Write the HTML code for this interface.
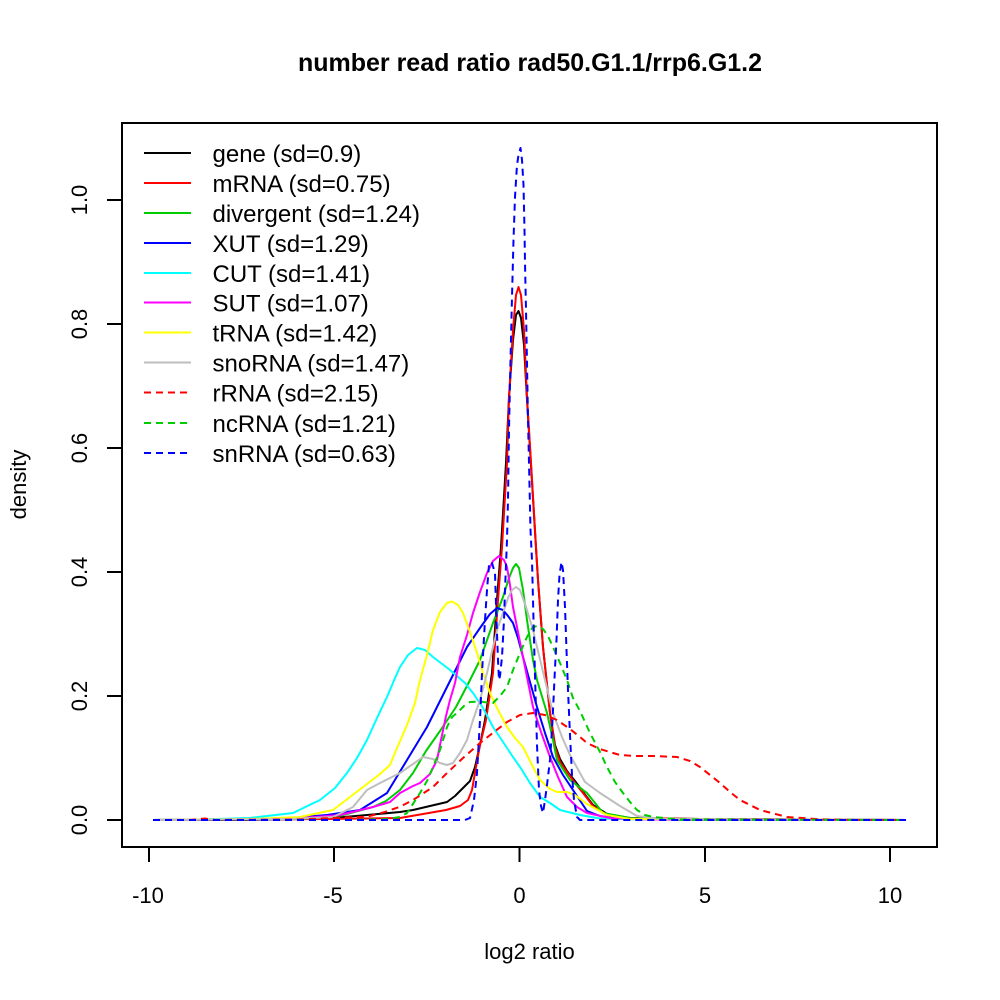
<!DOCTYPE html>
<html>
<head>
<meta charset="utf-8">
<style>
html,body{margin:0;padding:0;background:#fff;}
svg{display:block;}
text{font-family:"Liberation Sans",Arial,sans-serif;fill:#000;}
</style>
</head>
<body>
<svg width="1000" height="1000" viewBox="0 0 1000 1000" xmlns="http://www.w3.org/2000/svg">
<rect x="0" y="0" width="1000" height="1000" fill="#fff"/>

<!-- title -->
<text x="530" y="71" font-size="25" font-weight="bold" text-anchor="middle">number read ratio rad50.G1.1/rrp6.G1.2</text>

<!-- curves -->
<g fill="none" stroke-width="2" stroke-linejoin="round" stroke-linecap="butt">
<polyline stroke="#000000" points="153,820 250,820 300,819 333,818 367,815 400,812 413,810 430,806 447,802 455,796 462,789 470,781 475,767 480,745 485,720 492,673 497,600 501,547 506,463 509,397 513,340 516,315 518.5,311 521,318 524,345 527,400 531,465 536,548 538,580 543,647 550,713 555,745 560,759 567,771 575,781 583,792 593,805 607,814 630,818 700,819 906,820"/>
<polyline stroke="#FF0000" points="153,820 330,819 400,818 423,814 446,810 460,806 468,800 472,790 476,767 480,745 486,720 493,673 498,600 502,547 507,463 509,397 513,330 516,295 518.5,287 521,295 524,330 527,397 531,463 536,547 538,580 543,647 550,713 555,747 560,762 567,772 575,783 583,793 593,806 607,815 630,818 700,819 906,820"/>
<polyline stroke="#00CD00" points="153,820 300,819 343,815 373,807 386,801 400,790 413,773 426,751 440,731 456,707 468,684 480,660 493,623 503,597 509,578 513,568 516,564 519,568 523,590 527,620 533,660 537,680 547,713 553,740 557,760 570,780 587,793 603,813 630,818 680,820 906,820"/>
<polyline stroke="#0000FF" points="153,820 280,819 327,815 360,810 387,793 407,760 427,727 447,687 467,647 480,628 490,614 497,608 503,610 508,616 513,623 518,638 523,657 530,682 537,707 545,733 553,757 563,775 573,790 587,811 600,816 620,819 906,820"/>
<polyline stroke="#00FFFF" points="153,820 200,819.5 250,818 293,813 320,800 335,788 347,773 357,758 367,740 377,718 387,697 395,678 400,667 408,655 417,648 425,650 433,657 450,670 465,683 473,693 483,708 493,727 503,742 513,757 520,767 530,783 540,797 550,803 560,810 580,815 600,818.5 640,819.5 906,820"/>
<polyline stroke="#FF00FF" points="153,820 290,819 340,815 373,807 390,802 400,793 413,786 420,783 430,774 437,760 441,740 446,716 450,700 455,683 460,657 467,635 473,613 480,592 487,573 493,561 499,556 504,560 507,567 510,585 513,607 518,632 523,657 528,682 533,707 541,732 550,757 558,777 567,797 577,807 587,813 610,818 650,819.5 906,820"/>
<polyline stroke="#FFFF00" points="153,820 250,819 300,817 333,810 350,797 367,784 380,774 390,765 397,748 407,725 415,703 420,680 427,655 433,630 440,612 447,603 452,601.5 458,605 463,613 470,632 477,653 483,673 490,693 498,710 507,727 515,738 523,747 533,767 540,780 550,789 557,792 567,792 575,795 587,804 607,815 630,819 906,820"/>
<polyline stroke="#BEBEBE" points="153,820 290,819 333,817 353,807 367,790 380,783 400,773 413,764 423,757 433,759 440,763 447,765 453,763 460,753 467,740 473,720 480,700 487,673 493,647 498,627 503,613 508,598 512,590 516,587 520,590 526,607 533,630 537,647 545,680 553,713 562,737 570,755 585,782 600,793 620,806 637,816 660,819 906,820"/>
</g>
<g fill="none" stroke-width="2" stroke-linejoin="round" stroke-dasharray="7 5">
<polyline stroke="#FF0000" points="153,820 190,820 205,818.5 215,820 300,819.5 333,818 367,816.7 385,812 400,806.7 413,800 433,787 447,773 463,758 480,743 494,732 507,722 520,715 533,713 545,715 557,720 570,729 580,737 587,743 600,749 613,753 620,755 635,756 653,756 677,757 690,761 700,767 710,775 720,783 730,792 740,800 760,810 787,817 820,819.3 860,820 906,820"/>
<polyline stroke="#00CD00" points="153,820 350,820 387,819 400,817 407,813 420,793 427,781 433,767 440,750 447,727 452,717 457,713 465,705 470,702 480,701.5 487,702.5 493,703 500,696 507,687 513,670 520,653 527,637 533,627 538,626 543,629 548,636 553,647 560,663 567,680 573,698 580,711 590,733 600,752 607,767 615,782 623,793 630,802 637,810 645,815 653,817 680,819.5 906,820"/>
<polyline stroke="#0000FF" points="153,820 465,820 470,818 474,800 477,773 480,720 482,673 485,620 487,590 489,565 490,562 492,563 495,573 496.5,620 498,660 499,680 500,676 502,657 504,620 505,590 507,540 508,500 509,430 510.5,360 512,297 513.5,240 515,197 517,165 518.5,155 520.5,148 522,160 523.5,185 524.5,230 525,263 526,310 527,363 528,420 529,463 530.5,530 532,560 534,640 536,710 537,745 539,790 541,806 543,813 545,800 547,785 550,760 552,730 553.5,700 555,668 556.5,640 558,600 559.5,575 561.5,562 563,570 565,607 566.5,650 568,690 570,735 572,775 574,800 577,817 580,820 906,820"/>
</g>

<!-- box -->
<rect x="122" y="123" width="815" height="724" fill="none" stroke="#000" stroke-width="2"/>

<!-- x ticks -->
<g stroke="#000" stroke-width="2">
<line x1="149" y1="847" x2="149" y2="862"/>
<line x1="334" y1="847" x2="334" y2="862"/>
<line x1="519.5" y1="847" x2="519.5" y2="862"/>
<line x1="705" y1="847" x2="705" y2="862"/>
<line x1="890" y1="847" x2="890" y2="862"/>
<line x1="122" y1="820" x2="107" y2="820"/>
<line x1="122" y1="696" x2="107" y2="696"/>
<line x1="122" y1="572" x2="107" y2="572"/>
<line x1="122" y1="448" x2="107" y2="448"/>
<line x1="122" y1="324" x2="107" y2="324"/>
<line x1="122" y1="200" x2="107" y2="200"/>
</g>
<g font-size="22" text-anchor="middle">
<text x="148" y="903">-10</text>
<text x="333" y="903">-5</text>
<text x="519.5" y="903">0</text>
<text x="705" y="903">5</text>
<text x="890" y="903">10</text>
<text transform="translate(87,820) rotate(-90)">0.0</text>
<text transform="translate(87,696) rotate(-90)">0.2</text>
<text transform="translate(87,572) rotate(-90)">0.4</text>
<text transform="translate(87,448) rotate(-90)">0.6</text>
<text transform="translate(87,324) rotate(-90)">0.8</text>
<text transform="translate(87,200) rotate(-90)">1.0</text>
<text x="529.5" y="959">log2 ratio</text>
<text transform="translate(26,484.5) rotate(-90)">density</text>
</g>

<!-- legend -->
<g stroke-width="2" fill="none">
<line x1="144" y1="153" x2="191" y2="153" stroke="#000000"/>
<line x1="144" y1="183" x2="191" y2="183" stroke="#FF0000"/>
<line x1="144" y1="213" x2="191" y2="213" stroke="#00CD00"/>
<line x1="144" y1="243" x2="191" y2="243" stroke="#0000FF"/>
<line x1="144" y1="273" x2="191" y2="273" stroke="#00FFFF"/>
<line x1="144" y1="302.5" x2="191" y2="302.5" stroke="#FF00FF"/>
<line x1="144" y1="332.5" x2="191" y2="332.5" stroke="#FFFF00"/>
<line x1="144" y1="362.5" x2="191" y2="362.5" stroke="#BEBEBE"/>
<line x1="144" y1="392.5" x2="189" y2="392.5" stroke="#FF0000" stroke-dasharray="7 5"/>
<line x1="144" y1="423" x2="189" y2="423" stroke="#00CD00" stroke-dasharray="7 5"/>
<line x1="144" y1="453" x2="189" y2="453" stroke="#0000FF" stroke-dasharray="7 5"/>
</g>
<g font-size="24">
<text x="212.5" y="162">gene (sd=0.9)</text>
<text x="212.5" y="192">mRNA (sd=0.75)</text>
<text x="212.5" y="222">divergent (sd=1.24)</text>
<text x="212.5" y="252">XUT (sd=1.29)</text>
<text x="212.5" y="282">CUT (sd=1.41)</text>
<text x="212.5" y="311.5">SUT (sd=1.07)</text>
<text x="212.5" y="341.5">tRNA (sd=1.42)</text>
<text x="212.5" y="371.5">snoRNA (sd=1.47)</text>
<text x="212.5" y="401.5">rRNA (sd=2.15)</text>
<text x="212.5" y="432">ncRNA (sd=1.21)</text>
<text x="212.5" y="462">snRNA (sd=0.63)</text>
</g>
</svg>
</body>
</html>
